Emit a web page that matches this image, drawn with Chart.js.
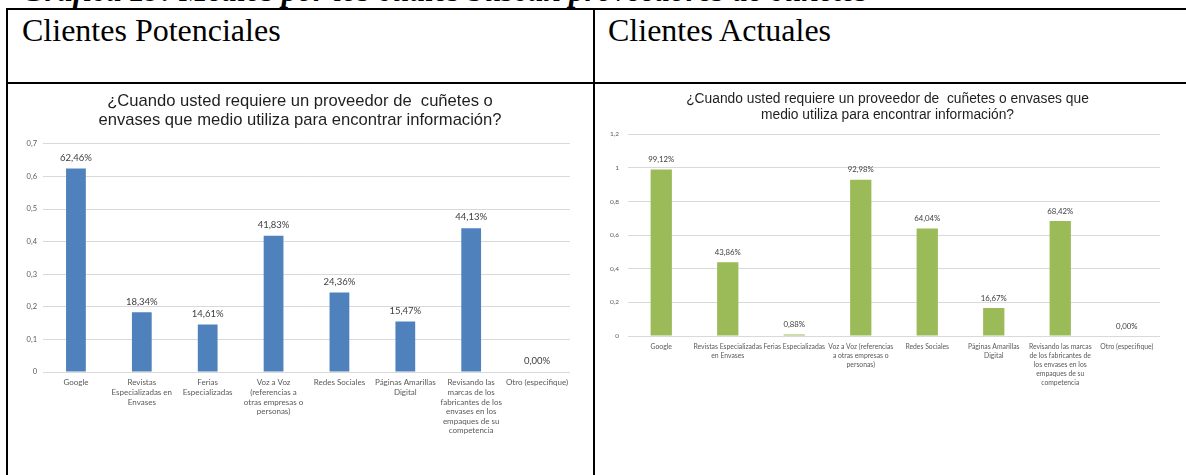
<!DOCTYPE html>
<html lang="es">
<head>
<meta charset="utf-8">
<title>Medios por los cuales buscan proveedores de cuñetes</title>
<script src="https://cdn.jsdelivr.net/npm/chart.js@4.4.1/dist/chart.umd.min.js"></script>
<style>
    html, body { margin: 0; padding: 0; background: #ffffff; }
    body { position: relative; width: 1186px; height: 475px; overflow: hidden; }
    .caption {
        position: absolute; left: 22px; top: -27px;
        font: italic bold 31.5px "Liberation Serif", "Times New Roman", serif;
        color: #000; white-space: nowrap;
    }
    .line { position: absolute; background: #000; }
    .cell-title {
        position: absolute; top: 12px;
        font: 32px "Liberation Serif", "Times New Roman", serif;
        color: #000; white-space: nowrap;
    }
    canvas { position: absolute; }
</style>
</head>
<body>

<div class="caption">Gráfica 19: Medios por los cuales buscan proveedores de cuñetes</div>

<!-- table borders -->
<div class="line" style="left:6px; top:8px; width:1180px; height:2px;"></div>
<div class="line" style="left:6px; top:8px; width:2px; height:467px;"></div>
<div class="line" style="left:593px; top:8px; width:2px; height:467px;"></div>
<div class="line" style="left:6px; top:82px; width:1180px; height:2px;"></div>

<div class="cell-title" style="left:22px;">Clientes Potenciales</div>
<div class="cell-title" style="left:608px;">Clientes Actuales</div>

<canvas id="potencialesChart" width="572" height="388" style="left:14px; top:87px;"></canvas>
<canvas id="actualesChart" width="573" height="388" style="left:601px; top:87px;"></canvas>

<script>
// ==========================================
// DATA
// ==========================================

const potencialesLabels = [
    "Google",
    ["Revistas", "Especializadas en", "Envases"],
    ["Ferias", "Especializadas"],
    ["Voz a Voz", "(referencias a", "otras empresas o", "personas)"],
    "Redes Sociales",
    ["Páginas Amarillas", "Digital"],
    ["Revisando las", "marcas de los", "fabricantes de los", "envases en los", "empaques de su", "competencia"],
    "Otro (especifique)"
];

const actualesLabels = [
    "Google",
    ["Revistas Especializadas", "en Envases"],
    "Ferias Especializadas",
    ["Voz a Voz (referencias", "a otras empresas o", "personas)"],
    "Redes Sociales",
    ["Páginas Amarillas", "Digital"],
    ["Revisando las marcas", "de los fabricantes de", "los envases en los", "empaques de su", "competencia"],
    "Otro (especifique)"
];

// percentages
const potencialesValues = [62.46, 18.34, 14.61, 41.83, 24.36, 15.47, 44.13, 0.00];
const actualesValues = [99.12, 43.86, 0.88, 92.98, 64.04, 16.67, 68.42, 0.00];

const potencialesTicks = [0, 10, 20, 30, 40, 50, 60, 70];
const actualesTicks = [0, 20, 40, 60, 80, 100, 120];

// ==========================================
// HELPERS
// ==========================================

// 70 -> "0,7", 100 -> "1"
function commaNumber(value) {
    return String(Math.round(value * 1000) / 100000).replace(".", ",");
}

// value label drawn above each bar
const valueLabels = {
    id: "valueLabels",
    afterDatasetsDraw(chart, args, opts) {
        const ctx = chart.ctx;
        const meta = chart.getDatasetMeta(0);
        const values = chart.data.datasets[0].data;
        ctx.save();
        ctx.font = opts.font;
        ctx.fillStyle = opts.color;
        ctx.textAlign = "center";
        ctx.textBaseline = "bottom";
        meta.data.forEach(function (bar, i) {
            const text = values[i].toFixed(2).replace(".", ",") + "%";
            ctx.fillText(text, bar.x, bar.y - opts.offset);
        });
        ctx.restore();
    }
};

function buildChart(canvas, cfg) {
    return new Chart(canvas, {
        type: "bar",
        data: {
            labels: cfg.labels,
            datasets: [
                {
                    data: cfg.values,
                    backgroundColor: cfg.color,
                    borderWidth: 0,
                    barPercentage: cfg.barPercentage,
                    categoryPercentage: 1,
                }
            ]
        },
        plugins: [valueLabels],
        options: {
            responsive: false,
            animation: false,
            devicePixelRatio: 1,
            plugins: {
                legend: { display: false },
                tooltip: { enabled: false },
                title: {
                    display: true,
                    text: cfg.title,
                    color: "#1f1f1f",
                    font: { family: "'Liberation Sans', Arial, sans-serif", size: cfg.titleSize, weight: "normal", lineHeight: cfg.titleLine },
                    padding: cfg.titlePadding,
                },
                valueLabels: {
                    font: cfg.valueFont,
                    color: "#404040",
                    offset: cfg.valueOffset,
                }
            },
            scales: {
                x: {
                    grid: { display: false, drawTicks: false },
                    border: { display: false },
                    ticks: {
                        autoSkip: false,
                        maxRotation: 0,
                        minRotation: 0,
                        padding: cfg.xPadding,
                        color: "#595959",
                        font: { family: "Lato, 'Liberation Sans', sans-serif", size: cfg.xSize, lineHeight: cfg.xLine },
                    },
                    afterFit: function (scale) {
                        scale.height = cfg.xHeight;
                    }
                },
                y: {
                    min: 0,
                    max: cfg.ticks[cfg.ticks.length - 1],
                    afterBuildTicks: function (scale) {
                        scale.ticks = cfg.ticks.map(v => ({ value: v }));
                    },
                    grid: { color: "#d9d9d9", lineWidth: 1, drawTicks: false },
                    border: { display: false },
                    ticks: {
                        padding: cfg.yPadding,
                        color: "#595959",
                        font: { family: "Lato, 'Liberation Sans', sans-serif", size: cfg.ySize },
                        callback: function (value) {
                            return commaNumber(value);
                        }
                    },
                    afterFit: function (scale) {
                        scale.width = cfg.yWidth;
                    }
                },
                // empty strip on the right so the title stays centred on the whole canvas
                spacer: {
                    position: "right",
                    grid: { display: false, drawTicks: false },
                    border: { display: false },
                    ticks: { display: false },
                    afterFit: function (scale) {
                        scale.width = cfg.padRight;
                    }
                }
            }
        }
    });
}

// ==========================================
// CLIENTES POTENCIALES
// ==========================================

buildChart(document.getElementById("potencialesChart"), {
    labels: potencialesLabels,
    values: potencialesValues,
    ticks: potencialesTicks,
    color: "#4f81bd",
    barPercentage: 0.3,
    title: ["¿Cuando usted requiere un proveedor de  cuñetes o", "envases que medio utiliza para encontrar información?"],
    titleSize: 16.6,
    titleLine: 1.2,
    titlePadding: { top: 4, bottom: 13 },
    padRight: 16,
    xHeight: 103,
    xPadding: 6,
    xSize: 8,
    xLine: 1.2,
    yWidth: 29,
    yPadding: 6,
    ySize: 7.5,
    valueFont: "9.5px Lato, 'Liberation Sans', sans-serif",
    valueOffset: 6,
});

// ==========================================
// CLIENTES ACTUALES
// ==========================================

buildChart(document.getElementById("actualesChart"), {
    labels: actualesLabels,
    values: actualesValues,
    ticks: actualesTicks,
    color: "#9bbb59",
    barPercentage: 0.32,
    title: ["¿Cuando usted requiere un proveedor de  cuñetes o envases que", "medio utiliza para encontrar información?"],
    titleSize: 13.8,
    titleLine: 1.1,
    titlePadding: { top: 5, bottom: 12 },
    padRight: 14,
    xHeight: 139,
    xPadding: 6,
    xSize: 6.8,
    xLine: 1.32,
    yWidth: 27,
    yPadding: 9,
    ySize: 6.5,
    valueFont: "7.8px Lato, 'Liberation Sans', sans-serif",
    valueOffset: 6,
});
</script>
</body>
</html>
